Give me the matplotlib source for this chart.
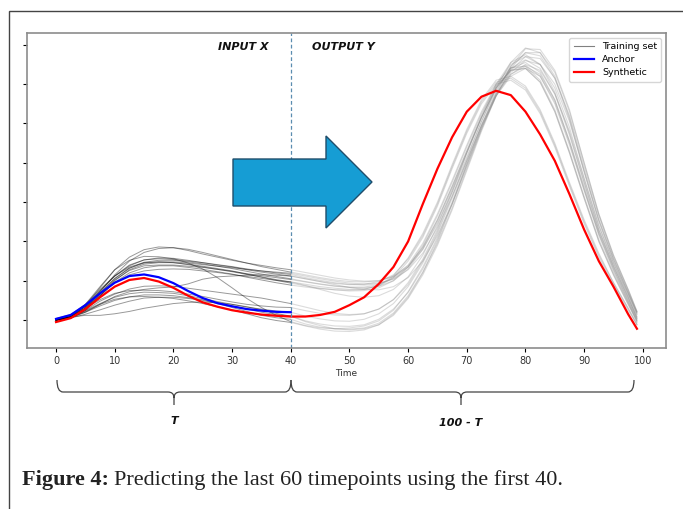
import matplotlib
matplotlib.use("Agg")
import matplotlib.pyplot as plt
from matplotlib.lines import Line2D
from matplotlib.patches import Polygon, Rectangle, PathPatch
from matplotlib.path import Path

W, H = 683, 509

# time grids (values read every 2.5 timepoints)
input_t = [0, 2.5, 5, 7.5, 10, 12.5, 15, 17.5, 20, 22.5, 25, 27.5, 30, 32.5, 35, 37.5, 40]
output_t = [42.5, 45, 47.5, 50, 52.5, 55, 57.5, 60, 62.5, 65, 67.5, 70, 72.5, 75, 77.5,
            80, 82.5, 85, 87.5, 90, 92.5, 95, 97.5, 99]

# training set, input window (t = 0..40)
train_input = [
    [0.00, 0.08, 0.36, 0.82, 1.28, 1.60, 1.79, 1.86, 1.84, 1.77, 1.68, 1.60, 1.52, 1.45, 1.39, 1.33, 1.28],
    [0.00, 0.06, 0.30, 0.72, 1.15, 1.50, 1.72, 1.82, 1.84, 1.80, 1.72, 1.63, 1.54, 1.45, 1.36, 1.29, 1.22],
    [0.02, 0.10, 0.35, 0.75, 1.12, 1.38, 1.53, 1.58, 1.57, 1.52, 1.46, 1.40, 1.35, 1.28, 1.22, 1.17, 1.12],
    [0.00, 0.07, 0.30, 0.68, 1.05, 1.32, 1.47, 1.52, 1.52, 1.48, 1.43, 1.37, 1.31, 1.24, 1.17, 1.11, 1.05],
    [0.04, 0.14, 0.40, 0.78, 1.12, 1.35, 1.46, 1.48, 1.46, 1.41, 1.35, 1.29, 1.23, 1.16, 1.10, 1.03, 0.97],
    [0.00, 0.05, 0.25, 0.62, 1.00, 1.28, 1.42, 1.46, 1.46, 1.42, 1.37, 1.31, 1.25, 1.17, 1.09, 1.01, 0.94],
    [0.00, 0.07, 0.28, 0.62, 0.96, 1.20, 1.33, 1.38, 1.38, 1.34, 1.29, 1.23, 1.17, 1.09, 1.02, 0.95, 0.89],
    [0.03, 0.11, 0.34, 0.70, 1.06, 1.32, 1.45, 1.48, 1.48, 1.45, 1.41, 1.37, 1.33, 1.29, 1.25, 1.22, 1.19],
    [0.00, 0.07, 0.30, 0.66, 1.02, 1.26, 1.38, 1.40, 1.40, 1.37, 1.34, 1.29, 1.24, 1.18, 1.13, 1.08, 1.03],
    [0.00, 0.08, 0.30, 0.52, 0.68, 0.75, 0.76, 0.75, 0.72, 0.66, 0.60, 0.53, 0.46, 0.40, 0.36, 0.33, 0.32],
    [0.00, 0.07, 0.24, 0.42, 0.58, 0.67, 0.71, 0.70, 0.68, 0.62, 0.55, 0.47, 0.40, 0.33, 0.28, 0.23, 0.20],
    [0.02, 0.07, 0.20, 0.36, 0.50, 0.59, 0.64, 0.64, 0.62, 0.57, 0.52, 0.44, 0.36, 0.28, 0.20, 0.14, 0.10],
    [0.00, 0.05, 0.15, 0.26, 0.38, 0.48, 0.56, 0.58, 0.58, 0.55, 0.50, 0.42, 0.32, 0.22, 0.12, 0.06, 0.02],
    [0.00, 0.08, 0.12, 0.12, 0.16, 0.22, 0.30, 0.36, 0.42, 0.45, 0.46, 0.44, 0.40, 0.34, 0.26, 0.17, 0.10],
    [0.00, 0.08, 0.25, 0.48, 0.66, 0.79, 0.86, 0.87, 0.86, 0.81, 0.76, 0.71, 0.66, 0.61, 0.56, 0.49, 0.42],
    [0.02, 0.08, 0.22, 0.40, 0.53, 0.59, 0.60, 0.58, 0.55, 0.49, 0.42, 0.34, 0.26, 0.16, 0.06, -0.01, -0.06],
    [0.00, 0.06, 0.20, 0.40, 0.60, 0.72, 0.78, 0.82, 0.84, 0.92, 1.04, 1.10, 1.12, 1.14, 1.15, 1.14, 1.12],
    [0.00, 0.10, 0.40, 0.85, 1.28, 1.52, 1.62, 1.61, 1.56, 1.45, 1.30, 1.08, 0.82, 0.55, 0.32, 0.12, -0.04],
    [0.00, 0.08, 0.30, 0.62, 0.95, 1.15, 1.25, 1.29, 1.30, 1.29, 1.25, 1.21, 1.16, 1.11, 1.06, 1.01, 0.97],
    [0.00, 0.08, 0.34, 0.74, 1.12, 1.40, 1.53, 1.56, 1.54, 1.50, 1.46, 1.41, 1.36, 1.30, 1.25, 1.20, 1.16],
]

# training set, output window (t = 42.5..99)
train_output = [
    [1.21, 1.14, 1.07, 1.02, 0.99, 1.00, 1.10, 1.35, 1.80, 2.45, 3.25, 4.15, 5.05, 5.90, 6.55, 6.92, 6.80, 6.20, 5.15, 3.80, 2.55, 1.55, 0.70, 0.20],
    [1.15, 1.08, 1.02, 0.98, 0.97, 1.00, 1.12, 1.38, 1.85, 2.55, 3.40, 4.30, 5.15, 5.95, 6.50, 6.70, 6.50, 5.90, 4.90, 3.60, 2.40, 1.45, 0.65, 0.15],
    [1.05, 0.98, 0.93, 0.90, 0.91, 0.98, 1.15, 1.55, 2.15, 2.95, 3.90, 4.80, 5.55, 6.05, 6.15, 5.90, 5.30, 4.45, 3.45, 2.50, 1.65, 0.95, 0.30, -0.10],
    [0.98, 0.92, 0.87, 0.84, 0.84, 0.90, 1.08, 1.40, 1.95, 2.70, 3.55, 4.45, 5.30, 6.00, 6.42, 6.45, 6.10, 5.35, 4.30, 3.15, 2.05, 1.20, 0.45, 0.00],
    [0.91, 0.85, 0.81, 0.78, 0.79, 0.86, 1.08, 1.50, 2.10, 2.90, 3.85, 4.75, 5.50, 6.00, 6.10, 5.85, 5.25, 4.40, 3.40, 2.45, 1.60, 0.90, 0.25, -0.12],
    [0.87, 0.81, 0.77, 0.74, 0.75, 0.82, 1.00, 1.35, 1.90, 2.65, 3.50, 4.40, 5.25, 5.95, 6.35, 6.40, 6.05, 5.30, 4.25, 3.10, 2.00, 1.15, 0.40, -0.02],
    [0.84, 0.80, 0.77, 0.76, 0.78, 0.88, 1.12, 1.58, 2.20, 3.00, 3.95, 4.85, 5.60, 6.10, 6.20, 5.95, 5.35, 4.50, 3.50, 2.55, 1.70, 0.95, 0.30, -0.12],
    [1.12, 1.05, 0.99, 0.94, 0.92, 0.94, 1.04, 1.28, 1.70, 2.35, 3.15, 4.05, 4.95, 5.80, 6.45, 6.80, 6.72, 6.15, 5.10, 3.75, 2.50, 1.50, 0.68, 0.18],
    [0.97, 0.91, 0.86, 0.83, 0.82, 0.86, 1.00, 1.30, 1.80, 2.50, 3.35, 4.25, 5.15, 5.90, 6.40, 6.55, 6.30, 5.60, 4.55, 3.40, 2.25, 1.35, 0.55, 0.08],
    [0.24, 0.17, 0.13, 0.12, 0.16, 0.28, 0.52, 0.95, 1.55, 2.30, 3.25, 4.25, 5.15, 5.90, 6.35, 6.40, 6.05, 5.30, 4.25, 3.10, 2.00, 1.15, 0.40, -0.05],
    [0.10, 0.03, -0.02, -0.03, 0.02, 0.16, 0.42, 0.85, 1.45, 2.20, 3.10, 4.05, 4.95, 5.75, 6.30, 6.60, 6.50, 6.00, 5.05, 3.80, 2.55, 1.55, 0.70, 0.15],
    [-0.02, -0.10, -0.15, -0.16, -0.12, 0.02, 0.28, 0.70, 1.30, 2.05, 2.95, 3.95, 4.90, 5.70, 6.25, 6.50, 6.35, 5.75, 4.80, 3.60, 2.40, 1.45, 0.62, 0.10],
    [-0.10, -0.18, -0.22, -0.23, -0.20, -0.08, 0.18, 0.62, 1.22, 1.95, 2.85, 3.85, 4.85, 5.70, 6.35, 6.70, 6.65, 6.15, 5.20, 3.90, 2.65, 1.60, 0.75, 0.20],
    [-0.04, -0.14, -0.22, -0.25, -0.22, -0.12, 0.12, 0.55, 1.15, 1.90, 2.80, 3.80, 4.80, 5.70, 6.40, 6.80, 6.80, 6.30, 5.30, 4.00, 2.70, 1.65, 0.78, 0.22],
    [0.33, 0.24, 0.17, 0.14, 0.16, 0.28, 0.52, 0.90, 1.50, 2.25, 3.15, 4.10, 5.05, 5.85, 6.40, 6.62, 6.40, 5.75, 4.70, 3.50, 2.30, 1.38, 0.58, 0.05],
    [-0.15, -0.23, -0.28, -0.29, -0.25, -0.12, 0.15, 0.58, 1.20, 2.00, 2.95, 3.95, 4.90, 5.70, 6.20, 6.40, 6.20, 5.55, 4.50, 3.30, 2.15, 1.25, 0.45, -0.05],
    [1.05, 0.98, 0.90, 0.83, 0.78, 0.77, 0.85, 1.08, 1.50, 2.15, 2.95, 3.90, 4.85, 5.75, 6.45, 6.90, 6.88, 6.35, 5.35, 4.00, 2.70, 1.65, 0.78, 0.22],
    [-0.14, -0.20, -0.22, -0.20, -0.15, -0.02, 0.25, 0.72, 1.35, 2.10, 3.00, 4.00, 4.95, 5.75, 6.25, 6.45, 6.25, 5.60, 4.55, 3.35, 2.20, 1.30, 0.50, 0.00],
    [0.88, 0.78, 0.68, 0.61, 0.58, 0.62, 0.78, 1.10, 1.65, 2.40, 3.30, 4.25, 5.15, 5.90, 6.35, 6.48, 6.20, 5.50, 4.45, 3.30, 2.20, 1.30, 0.50, 0.03],
    [1.08, 1.01, 0.95, 0.91, 0.89, 0.92, 1.05, 1.35, 1.85, 2.55, 3.40, 4.30, 5.20, 6.00, 6.55, 6.75, 6.50, 5.80, 4.75, 3.50, 2.30, 1.38, 0.58, 0.05],
]

# anchor series (input window only)
anchor = [0.03, 0.13, 0.38, 0.68, 0.95, 1.12, 1.16, 1.09, 0.94, 0.74, 0.56, 0.43, 0.35, 0.28, 0.24, 0.21, 0.20]

# synthetic series (whole window)
synth_t = input_t + output_t
synthetic = [-0.05, 0.05, 0.28, 0.58, 0.85, 1.02, 1.07, 0.98, 0.82, 0.62, 0.45, 0.34, 0.25, 0.19, 0.14, 0.11, 0.09,
             0.09, 0.13, 0.21, 0.38, 0.58, 0.92, 1.35, 2.00, 2.95, 3.85, 4.65, 5.30, 5.68, 5.83, 5.72, 5.30,
             4.72, 4.05, 3.20, 2.30, 1.50, 0.85, 0.15, -0.22]

x_ticks = [0, 10, 20, 30, 40, 50, 60, 70, 80, 90, 100]
split_t = 40


def fx(px):
    return px / W


def fy(py):
    return 1 - py / H


fig = plt.figure(figsize=(W / 100, H / 100), dpi=100)
ax = fig.add_axes([fx(27), fy(348), (666 - 27) / W, (348 - 33) / H])

for inp, out in zip(train_input, train_output):
    ax.plot(input_t, inp, color='black', alpha=0.4, lw=0.7)
    ax.plot([input_t[-1]] + output_t, [inp[-1]] + out, color='gray', alpha=0.28, lw=0.8)

ax.plot(input_t, anchor, color='blue', lw=1.6)
ax.plot(synth_t, synthetic, color='red', lw=1.6)

ax.axvline(split_t, color='#5b8db0', ls=(0, (3, 2)), lw=0.9)

ax.set_xlim(-4.95, 103.95)
ax.set_ylim(-0.71, 7.30)
ax.set_xticks(x_ticks)
ax.set_yticks(range(0, 8))
ax.set_yticklabels([])
ax.tick_params(labelsize=7, labelcolor='#333333', length=3, width=0.8, pad=3)
for s in ax.spines.values():
    s.set_color('#8c8c8c')
    s.set_linewidth(1.2)
ax.set_xlabel('Time', fontsize=6.5, color='#333333', labelpad=2)

ax.text(36.3, 6.95, 'INPUT X', fontsize=8, fontweight='bold', fontstyle='italic',
        ha='right', va='center', color='#111111')
ax.text(43.6, 6.95, 'OUTPUT Y', fontsize=8, fontweight='bold', fontstyle='italic',
        ha='left', va='center', color='#111111')

handles = [Line2D([], [], color='gray', lw=0.8),
           Line2D([], [], color='blue', lw=1.6),
           Line2D([], [], color='red', lw=1.6)]
ax.legend(handles, ['Training set', 'Anchor', 'Synthetic'], loc='upper right',
          fontsize=6.8, frameon=True, fancybox=True, handlelength=2.2,
          borderpad=0.45, labelspacing=0.45, edgecolor='#cccccc')

# big arrow from input to output
arrow_px = [(233, 159), (326, 159), (326, 136), (372, 182), (326, 228), (326, 206), (233, 206)]
fig.add_artist(Polygon([(fx(a), fy(b)) for a, b in arrow_px], closed=True,
                       transform=fig.transFigure, facecolor='#169dd4',
                       edgecolor='#1f4d6b', lw=1, zorder=5))


# curly braces under the axis
def brace(x0, x1, xm, top=380, mid=392, tip=405, r=6):
    verts = [(x0, top), (x0, mid), (x0 + r, mid),
             (xm - r, mid), (xm, mid), (xm, mid + r),
             (xm, tip), (xm, mid + r),
             (xm, mid), (xm + r, mid),
             (x1 - r, mid), (x1, mid), (x1, top)]
    codes = [Path.MOVETO, Path.CURVE3, Path.CURVE3,
             Path.LINETO, Path.CURVE3, Path.CURVE3,
             Path.LINETO, Path.MOVETO,
             Path.CURVE3, Path.CURVE3,
             Path.LINETO, Path.CURVE3, Path.CURVE3]
    p = Path([(fx(a), fy(b)) for a, b in verts], codes)
    fig.add_artist(PathPatch(p, transform=fig.transFigure, fill=False,
                             edgecolor='#444444', lw=0.9))


brace(57, 291, 174)
brace(291, 634, 461)
fig.text(fx(174), fy(421), 'T', fontsize=8, fontweight='bold', fontstyle='italic',
         ha='center', va='center', color='#111111')
fig.text(fx(461), fy(423), '100 - T', fontsize=8, fontweight='bold', fontstyle='italic',
         ha='center', va='center', color='#111111')

# outer frame
fig.add_artist(Rectangle((fx(9), -0.05), 1.0, fy(11) + 0.05, transform=fig.transFigure,
                         fill=False, edgecolor='#444444', lw=1))

# caption
cap1 = fig.text(fx(22), fy(480), 'Figure 4:', fontsize=16, fontweight='bold',
                family='Liberation Serif', ha='left', va='center', color='#222222')
fig.canvas.draw()
bb = cap1.get_window_extent()
fig.text(fx(bb.x1 + 5), fy(480), 'Predicting the last 60 timepoints using the first 40.',
         fontsize=16, family='Liberation Serif', ha='left', va='center', color='#222222')

fig.savefig('out.png', dpi=100)
